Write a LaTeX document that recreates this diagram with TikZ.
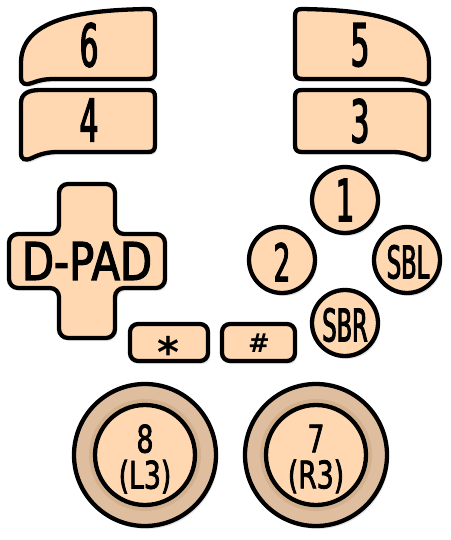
\documentclass[tikz,border=0pt]{standalone}
\usepackage{fontspec}
\usetikzlibrary{shadows}
\newfontfamily\narrowfont[FakeStretch=0.5, FakeBold=2.2]{DejaVu Sans}
\newfontfamily\midfont[FakeStretch=0.7, FakeBold=2]{DejaVu Sans}
\newfontfamily\padfont[FakeStretch=0.8, FakeBold=2.5]{DejaVu Sans}
\newfontfamily\symfont{DejaVu Sans Bold}
\definecolor{peach}{HTML}{FFD8B1}
\definecolor{tanring}{HTML}{DEBE9E}
\definecolor{tanshade}{HTML}{C9A582}
\tikzset{
  btn/.style={draw=black, line width=4.3pt, fill=peach, line join=round,
    drop shadow={opacity=0.22, shadow xshift=2pt, shadow yshift=-3pt}},
  ring/.style={draw=black, line width=4.3pt, fill=tanring,
    drop shadow={opacity=0.22, shadow xshift=2pt, shadow yshift=-3pt}},
  lbl/.style={inner sep=0pt, text=black},
}
\begin{document}
\begin{tikzpicture}[x=1pt, y=-1pt]
\useasboundingbox (0,0) rectangle (450,540);
% shoulder buttons left
\path[btn] (148,9) .. controls (90,10) and (22,16) .. (21,62) -- (21,77)
  .. controls (21,85) and (26,85) .. (32,83) .. controls (40,80) and (45,79) .. (55,79)
  -- (147,79) .. controls (153,79) and (155,77) .. (155,72) -- (155,16)
  .. controls (155,11) and (153,9) .. (148,9) -- cycle;
\path[btn] (148,90) -- (40,90) .. controls (28,90) and (21,94) .. (21,103) -- (21,153)
  .. controls (21,160) and (25,161) .. (32,158) .. controls (40,154) and (48,152) .. (58,152)
  -- (148,152) .. controls (153,152) and (155,150) .. (155,145) -- (155,97)
  .. controls (155,92) and (153,90) .. (148,90) -- cycle;
% shoulder buttons right (mirrored)
\begin{scope}[xshift=450pt, xscale=-1]
\path[btn] (148,9) .. controls (90,10) and (22,16) .. (21,62) -- (21,77)
  .. controls (21,85) and (26,85) .. (32,83) .. controls (40,80) and (45,79) .. (55,79)
  -- (147,79) .. controls (153,79) and (155,77) .. (155,72) -- (155,16)
  .. controls (155,11) and (153,9) .. (148,9) -- cycle;
\path[btn] (148,90) -- (40,90) .. controls (28,90) and (21,94) .. (21,103) -- (21,153)
  .. controls (21,160) and (25,161) .. (32,158) .. controls (40,154) and (48,152) .. (58,152)
  -- (148,152) .. controls (153,152) and (155,150) .. (155,145) -- (155,97)
  .. controls (155,92) and (153,90) .. (148,90) -- cycle;
\end{scope}
\node[lbl, font=\narrowfont\fontsize{59}{59}\selectfont] (b6) at (89,45) {6};
\node[lbl, font=\narrowfont\fontsize{59}{59}\selectfont] (b4) at (89,120) {4};
\node[lbl, font=\narrowfont\fontsize{59}{59}\selectfont] (b5) at (360,45) {5};
\node[lbl, font=\narrowfont\fontsize{59}{59}\selectfont] (b3) at (360,121) {3};
% D-pad
\path[btn, rounded corners=9pt] (59,184) -- (115,184) -- (115,234) -- (165,234) -- (165,288)
  -- (115,288) -- (115,338) -- (59,338) -- (59,288) -- (9,288) -- (9,234) -- (59,234) -- cycle;
\node[lbl, font=\padfont\fontsize{52}{52}\selectfont] (dpad) at (87,261) {D-PAD};
% * and # buttons
\path[btn, rounded corners=8pt] (130,324) rectangle (208,361);
\path[btn, rounded corners=8pt] (222,324) rectangle (295,361);
\node[lbl, font=\symfont\fontsize{42}{42}\selectfont] (star) at (168,352) {*};
\node[lbl, font=\symfont\fontsize{26}{26}\selectfont] (hash) at (259,343) {\#};
% face buttons
\path[btn] (345,200) circle[radius=33];
\path[btn] (282,260) circle[radius=33];
\path[btn] (407,260) circle[radius=33];
\path[btn] (345,323) circle[radius=33];
\node[lbl, font=\narrowfont\fontsize{58}{58}\selectfont] (b1) at (345,200) {1};
\node[lbl, font=\narrowfont\fontsize{52}{52}\selectfont] (b2) at (282,262) {2};
\node[lbl, font=\narrowfont\fontsize{45}{45}\selectfont] (sbl) at (408,262) {SBL};
\node[lbl, font=\narrowfont\fontsize{45}{45}\selectfont] (sbr) at (345,325) {SBR};
% sticks
\path[ring] (145,455) circle[radius=71];
\path[ring] (316,455) circle[radius=71];
\fill[tanshade, opacity=0.5] (145,455) circle[radius=56];
\fill[tanshade, opacity=0.5] (316,455) circle[radius=56];
\draw[draw=black, line width=4.3pt, fill=peach] (145,455) circle[radius=50];
\draw[draw=black, line width=4.3pt, fill=peach] (316,455) circle[radius=50];
\node[lbl, align=center, font=\midfont\fontsize{38}{36}\selectfont] (b8) at (145,459) {8\\(L3)};
\node[lbl, align=center, font=\midfont\fontsize{38}{36}\selectfont] (b7) at (316,459) {7\\(R3)};
\end{tikzpicture}
\end{document}
